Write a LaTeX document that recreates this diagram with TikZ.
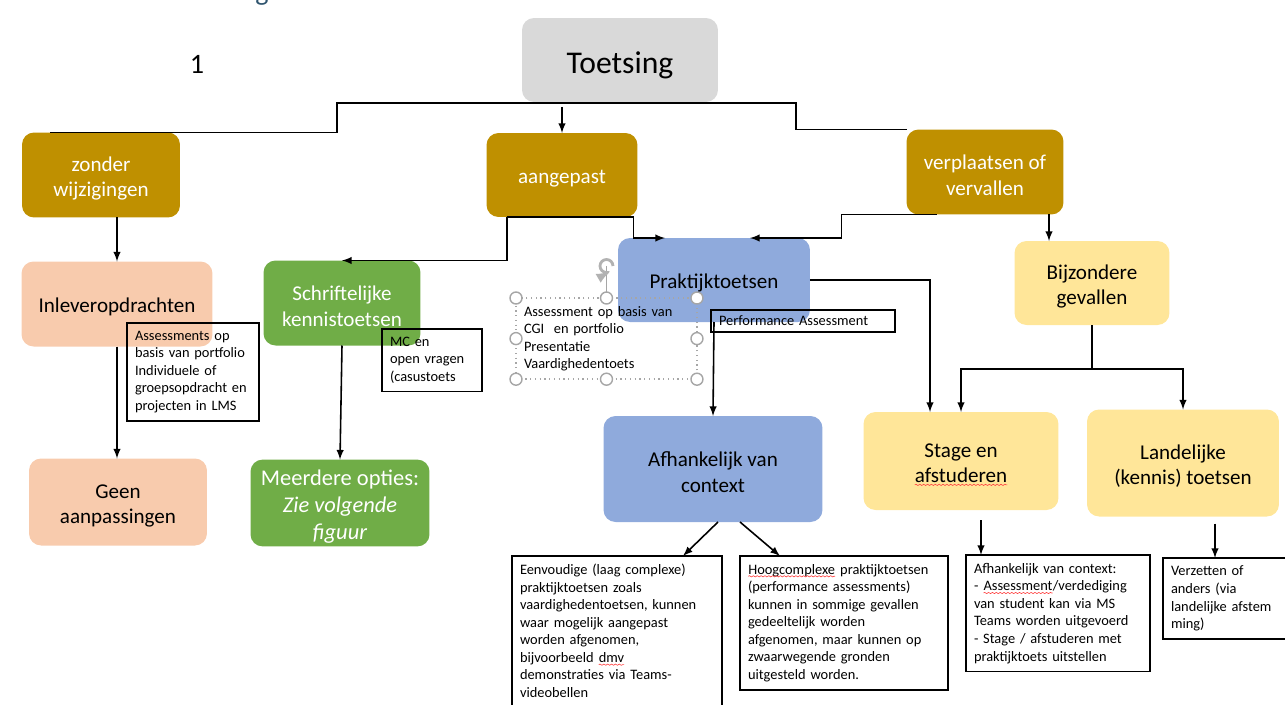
\documentclass[tikz,border=0pt]{standalone}
\usepackage{fontspec}
\setmainfont{Carlito}
\usepackage{tikz}
\usetikzlibrary{decorations.pathmorphing}

\definecolor{goud}{HTML}{BF9000}
\definecolor{perzik}{HTML}{F8CBAD}
\definecolor{groen}{HTML}{70AD47}
\definecolor{blauw}{HTML}{8FAADC}
\definecolor{geel}{HTML}{FFE699}
\definecolor{grijs}{HTML}{D9D9D9}
\definecolor{kopkleur}{RGB}{47,84,110}

% hogere eerste regel, zodat de tekst iets lager staat
\newcommand{\hp}{\rule{0pt}{1em}}
% rode kronkel onder een woord
\newcommand{\kronkel}[1]{\tikz[baseline=(w.base), rounded corners=0pt]{\node[inner sep=0pt, outer sep=0pt, minimum width=0pt, minimum height=0pt, text width={}, align=none, draw=none, fill=none, execute at begin node={}] (w) {#1};
  \draw[red!75, line width=0.35pt, solid, decorate, decoration={snake, amplitude=0.35pt, segment length=2.2pt}]
  ([yshift=-1.3pt]w.base west) -- ([yshift=-1.3pt]w.base east);}}

\begin{document}
\begin{tikzpicture}[x=0.02cm, y=-0.02cm,
  every node/.style={outer sep=0pt},
  blok/.style={rounded corners=2.4mm, align=center, inner sep=2pt, font=\fontsize{12}{14.4}\selectfont},
  kader/.style={draw, line width=0.7pt, anchor=north west, align=left, inner xsep=0.16cm, inner ysep=0.16cm, font=\fontsize{8.2}{10}\selectfont},
  pijl/.style={line width=0.9pt, -latex},
  lijn/.style={line width=0.9pt},
  greep/.style={draw=gray!70, fill=white, line width=0.8pt}]

\useasboundingbox (0,0) rectangle (1285,704);

\node[text=kopkleur, font=\fontsize{16}{19}\selectfont, anchor=base] (kop) at (262,0) {g};
\node[font=\fontsize{16}{19}\selectfont] (nr) at (197,64) {1};

\node[blok, fill=grijs, minimum width=3.92cm, minimum height=1.68cm, font=\fontsize{18}{21}\selectfont] (toets) at (620,60) {\hp Toetsing};

\node[blok, fill=goud, text=white, minimum width=3.16cm, minimum height=1.7cm] (zonder) at (101,175) {\hp zonder\\ wijzigingen};
\node[blok, fill=goud, text=white, minimum width=3.02cm, minimum height=1.68cm] (aangep) at (562,175) {\hp aangepast};
\node[blok, fill=goud, text=white, minimum width=3.14cm, minimum height=1.7cm] (verpl) at (985,172) {\hp verplaatsen of\\ vervallen};

\node[blok, fill=perzik, minimum width=3.82cm, minimum height=1.7cm] (inlev) at (117,304) {\hp Inleveropdrachten};
\node[blok, fill=perzik, minimum width=3.56cm, minimum height=1.74cm] (geen) at (118,502) {\hp Geen\\ aanpassingen};

\node[blok, fill=groen, text=white, minimum width=3.14cm, minimum height=1.7cm] (schrift) at (342,303) {\hp Schriftelijke\\ kennistoetsen};
\node[blok, fill=groen, text=white, minimum width=3.58cm, minimum height=1.7cm, font=\fontsize{12.8}{15.2}\selectfont] (meer) at (340,503) {\hp Meerdere opties:\\ \textit{Zie volgende}\\ \textit{figuur}};

\node[blok, fill=blauw, minimum width=3.84cm, minimum height=1.68cm] (prakt) at (714,280) {\hp Praktijktoetsen};
\node[blok, fill=blauw, minimum width=4.38cm, minimum height=2.12cm] (afh) at (713,469) {\hp Afhankelijk van\\ context};

\node[blok, fill=geel, minimum width=3.1cm, minimum height=1.68cm] (bijz) at (1092,283) {\hp Bijzondere\\ gevallen};
\node[blok, fill=geel, minimum width=3.9cm, minimum height=1.96cm] (stage) at (961,461) {\hp Stage en\\ \kronkel{afstuderen}};
\node[blok, fill=geel, minimum width=3.84cm, minimum height=2.14cm] (land) at (1183,463) {\hp Landelijke\\ (kennis) toetsen};

% tekstkaders
\node[kader, text width=2.32cm] (tb1) at (127,323) {Assessments op\\ basis van portfolio\\ Individuele of\\ groepsopdracht en\\ projecten in LMS};
\node[kader, text width=1.68cm] (tb2) at (382,329) {MC en\\ open vragen\\ (casustoets};
\node[kader, draw=gray!70, dotted, line width=0.9pt, text width=3.3cm] (tb3) at (516,298) {Assessment op basis van\\ CGI\ \ en portfolio\\ Presentatie\\ Vaardighedentoets};
\node[kader, inner ysep=0.12cm, text width=3.36cm] (tb4) at (711,310) {Performance Assessment};
\node[kader, text width=3.88cm] (tb5) at (512,556) {Eenvoudige (laag complexe)\\ praktijktoetsen zoals\\ vaardighedentoetsen, kunnen\\ waar mogelijk aangepast\\ worden afgenomen,\\ bijvoorbeeld \kronkel{dmv}\\ demonstraties via Teams-\\ videobellen\\ \mbox{}};
\node[kader, text width=3.84cm] (tb6) at (740,556) {\kronkel{Hoogcomplexe} praktijktoetsen\\ (performance assessments)\\ kunnen in sommige gevallen\\ gedeeltelijk worden\\ afgenomen, maar kunnen op\\ zwaarwegende gronden\\ uitgesteld worden.};
\node[kader, text width=3.36cm] (tb7) at (966,555) {Afhankelijk van context:\\ - \kronkel{Assessment}/verdediging\\ van student kan via MS\\ Teams worden uitgevoerd\\ - Stage / afstuderen met\\ praktijktoets uitstellen};
\node[kader, text width=2.22cm] (tb8) at (1163,558) {Verzetten of\\ anders (via\\ landelijke afstem\\ ming)};

% selectiegrepen
\draw[gray!70, line width=0.8pt] (tb3.north) -- ++(0,-32) coordinate (rot);
\draw[gray!60, line width=1.6pt, -latex] ([xshift=0.13cm]rot) arc[start angle=0, end angle=300, radius=0.13cm];
\foreach \a in {north west,north,north east,west,east,south west,south,south east}
  \draw[greep] (tb3.\a) circle[radius=1.2mm];

% verbindingen
\coordinate (tl) at (337,103);
\coordinate (tr) at (796,103);
\draw[lijn] ([xshift=0.56cm]zonder.north west) -| (tl) -- (tr) |- (verpl.north west);
\draw[pijl] (aangep.north |- toets.south) ++(0,5) -- (aangep.north);
\draw[pijl] (inlev.north |- zonder.south) -- (inlev.north);
\draw[pijl] (inlev.south) -- (inlev.south |- geen.north);
\draw[pijl] (schrift.south) -- (meer.north);
\draw[pijl] ([xshift=0.41cm]aangep.south west) |- (schrift.north);
\draw[pijl] ([xshift=0.41cm]aangep.south west) -- ([xshift=-0.08cm]aangep.south east) |- ([xshift=-0.98cm]prakt.north);
\draw[pijl] ([xshift=0.6cm]verpl.south west) -- ++(-95,0) |- ([xshift=0.72cm]prakt.north);
\draw[pijl] (verpl.south) ++(64,0) coordinate (vb) -- (vb |- bijz.north);
\draw[pijl] (prakt.east) -| ([xshift=-0.62cm]stage.north);
\draw[lijn] (bijz.south) -- ++(0,44) coordinate (split);
\draw[pijl] (split) -| (stage.north);
\draw[pijl] (split) -| (land.north);
\draw[pijl] (prakt.south) -- (afh.north);
\draw[pijl] ([xshift=0.1cm]afh.south) -- ([xshift=-0.78cm]tb5.north east);
\draw[pijl] ([xshift=0.54cm]afh.south) -- ([xshift=0.8cm]tb6.north west);
\draw[pijl] (stage.south) ++(20,10) coordinate (s7) -- (s7 |- tb7.north);
\draw[pijl] (land.south) ++(32,7) coordinate (s8) -- (s8 |- tb8.north);
\end{tikzpicture}
\end{document}
